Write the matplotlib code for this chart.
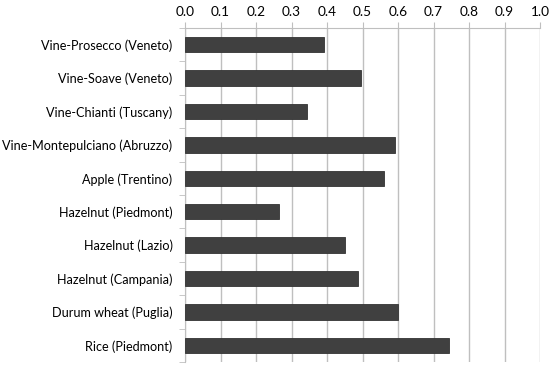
import numpy as np
from matplotlib import pyplot as plt

categories = ['Vine-Prosecco (Veneto)', 'Vine-Soave (Veneto)', 'Vine-Chianti (Tuscany)',
              'Vine-Montepulciano (Abruzzo)', 'Apple (Trentino)', 'Hazelnut (Piedmont)',
              'Hazelnut (Lazio)', 'Hazelnut (Campania)', 'Durum wheat (Puglia)',
              'Rice (Piedmont)']
values = [0.392, 0.496, 0.345, 0.592, 0.561, 0.265, 0.452, 0.486, 0.599, 0.744]
xticks = [0.0, 0.1, 0.2, 0.3, 0.4, 0.5, 0.6, 0.7, 0.8, 0.9, 1.0]

plt.rcParams['font.family'] = ['Lato', 'DejaVu Sans']

fig = plt.figure(figsize=(5.5, 3.67), dpi=100)
ax = fig.add_axes([185 / 550, 5 / 367, 355 / 550, 334 / 367])

y = np.arange(len(categories))
ax.barh(y, values, height=0.46, color='#404040', edgecolor='#333333', linewidth=0.6, zorder=3)

ax.set_xlim(0, 1.0)
ax.set_ylim(len(categories) - 0.5, -0.5)
ax.set_xticks(xticks)
ax.set_xticklabels([f'{t:.1f}' for t in xticks], fontsize=9.8)
ax.xaxis.tick_top()
ax.tick_params(axis='x', direction='out', length=4, color='#bfbfbf', pad=3)

ax.set_yticks(y)
ax.set_yticklabels(categories, fontsize=9.1)
ax.tick_params(axis='y', which='major', length=0, pad=9)
ax.set_yticks(np.arange(len(categories) + 1) - 0.5, minor=True)
ax.tick_params(axis='y', which='minor', direction='out', length=4, color='#bfbfbf')

ax.grid(axis='x', color='#bfbfbf', linewidth=1, zorder=0)
ax.spines['right'].set_visible(False)
ax.spines['bottom'].set_visible(False)
ax.spines['left'].set_color('#bfbfbf')
ax.spines['top'].set_color('#bfbfbf')

fig.savefig('out.png', dpi=100)
